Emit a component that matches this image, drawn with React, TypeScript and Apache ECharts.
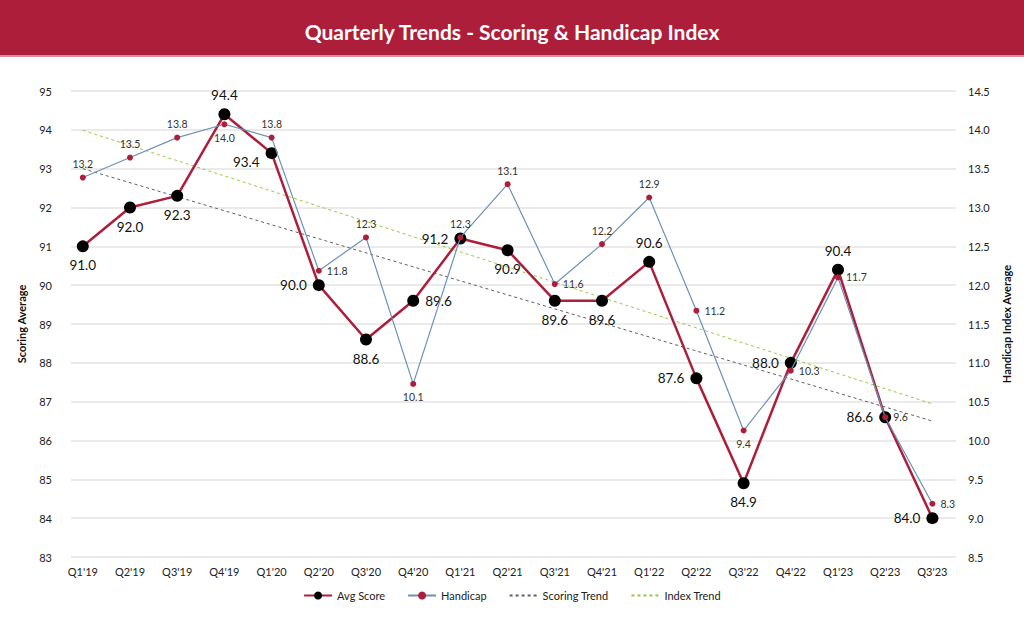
import React, { useEffect, useRef } from "react";
import * as echarts from "echarts";

const categories = [
  "Q1'19", "Q2'19", "Q3'19", "Q4'19", "Q1'20", "Q2'20", "Q3'20", "Q4'20",
  "Q1'21", "Q2'21", "Q3'21", "Q4'21", "Q1'22", "Q2'22", "Q3'22", "Q4'22",
  "Q1'23", "Q2'23", "Q3'23",
];
const avgScore = [91.0, 92.0, 92.3, 94.4, 93.4, 90.0, 88.6, 89.6, 91.2, 90.9, 89.6, 89.6, 90.6, 87.6, 84.9, 88.0, 90.4, 86.6, 84.0];
const handicap = [13.2, 13.5, 13.8, 14.0, 13.8, 11.8, 12.3, 10.1, 12.3, 13.1, 11.6, 12.2, 12.9, 11.2, 9.4, 10.3, 11.7, 9.6, 8.3];
const scoringTrend = [93.0, 86.5]; // first and last quarter
const indexTrend = [13.91, 9.8]; // first and last quarter

const scorePos = ["bottom", "bottom", "bottom", "top", "left", "left", "bottom", "right", "left", "bottom", "bottom", "bottom", "top", "left", "bottom", "left", "top", "left", "left"];
const hcpPos = ["top", "top", "top", "bottom", "top", "right", "top", "bottom", "top", "top", "right", "top", "top", "right", "bottom", "right", "right", "right", "right"];

const FONT = "Lato, 'Noto Sans', sans-serif";
const CRIMSON = "#AD1E3B";

export default function App() {
  const ref = useRef<HTMLDivElement>(null);
  useEffect(() => {
    document.body.style.margin = "0";
    const chart = echarts.init(ref.current!, null, { renderer: "svg" });
    const last = categories.length - 1;
    const option = {
      animation: false,
      backgroundColor: "#ffffff",
      textStyle: { fontFamily: FONT },
      graphic: [
        { type: "rect", left: 0, top: 0, shape: { width: 1024, height: 55 }, style: { fill: CRIMSON }, z: 0 },
        { type: "rect", left: 0, top: 55, shape: { width: 1024, height: 2 }, style: { fill: "#D98C9B" }, z: 0 },
      ],
      title: {
        text: "Quarterly Trends - Scoring & Handicap Index",
        left: "center",
        top: 16,
        textStyle: { color: "#ffffff", fontSize: 21, fontWeight: "bold", fontFamily: FONT },
      },
      legend: {
        bottom: 12,
        left: "center",
        itemWidth: 28,
        itemHeight: 10,
        itemGap: 22,
        textStyle: { fontSize: 11, color: "#222", fontFamily: FONT },
        data: [
          { name: "Avg Score" },
          { name: "Handicap" },
          { name: "Scoring Trend", itemStyle: { opacity: 0 } },
          { name: "Index Trend", itemStyle: { opacity: 0 } },
        ],
      },
      grid: { left: 71, right: 68, top: 91, bottom: 61 },
      xAxis: {
        type: "value",
        min: -0.25,
        max: last + 0.5,
        axisLine: { show: false },
        axisTick: { show: false, customValues: categories.map((_, i) => i) },
        splitLine: { show: false },
        axisLabel: {
          customValues: categories.map((_, i) => i),
          formatter: (v: number) => categories[Math.round(v)] ?? "",
          fontSize: 11,
          color: "#222",
          margin: 9,
          fontFamily: FONT,
        },
      },
      yAxis: [
        {
          type: "value",
          min: 83,
          max: 95,
          interval: 1,
          name: "Scoring Average",
          nameLocation: "middle",
          nameGap: 44,
          nameRotate: 90,
          nameTextStyle: { fontSize: 11, fontWeight: "bold", color: "#111", fontFamily: FONT },
          axisLine: { show: false },
          axisTick: { show: false },
          axisLabel: { fontSize: 11, color: "#222", margin: 19, fontFamily: FONT },
          splitLine: { lineStyle: { color: "#e3e3e3", width: 1.5 } },
        },
        {
          type: "value",
          min: 8.5,
          max: 14.5,
          interval: 0.5,
          position: "right",
          name: "Handicap Index Average",
          nameLocation: "middle",
          nameGap: 36,
          nameRotate: 90,
          nameTextStyle: { fontSize: 11, fontWeight: "bold", color: "#111", fontFamily: FONT },
          axisLine: { show: false },
          axisTick: { show: false },
          axisLabel: { fontSize: 11, color: "#222", margin: 12, formatter: (v: number) => v.toFixed(1), fontFamily: FONT },
          splitLine: { show: false },
        },
        {
          type: "value",
          min: 7.5,
          max: 14.5,
          show: false,
          splitLine: { show: false },
        },
      ],
      series: [
        {
          name: "Scoring Trend",
          type: "line",
          yAxisIndex: 0,
          data: [[0, scoringTrend[0]], [last, scoringTrend[1]]],
          symbol: "none",
          lineStyle: { color: "#5f5f5f", width: 1, type: [3, 3] },
          itemStyle: { color: "#5f5f5f" },
          z: 1,
        },
        {
          name: "Index Trend",
          type: "line",
          yAxisIndex: 2,
          data: [[0, indexTrend[0]], [last, indexTrend[1]]],
          symbol: "none",
          lineStyle: { color: "#9CC640", width: 1, type: [3, 3] },
          itemStyle: { color: "#9CC640" },
          z: 1,
        },
        {
          name: "Avg Score",
          type: "line",
          yAxisIndex: 0,
          data: avgScore.map((v, i) => ({
            value: [i, v],
            label: { position: scorePos[i], offset: i === 4 ? [0, 9] : [0, 0] },
          })),
          symbol: "circle",
          symbolSize: 12,
          lineStyle: { color: CRIMSON, width: 2.5 },
          itemStyle: { color: "#000000" },
          label: {
            show: true,
            fontSize: 13.5,
            color: "#111",
            distance: 6,
            fontFamily: FONT,
            formatter: (p: any) => p.value[1].toFixed(1),
          },
          z: 3,
        },
        {
          name: "Handicap",
          type: "line",
          yAxisIndex: 2,
          data: handicap.map((v, i) => ({
            value: [i, v],
            label: { position: hcpPos[i] },
          })),
          symbol: "circle",
          symbolSize: 6,
          lineStyle: { color: "#6B91B7", width: 1.2 },
          itemStyle: { color: CRIMSON },
          label: {
            show: true,
            fontSize: 10.5,
            color: "#333",
            distance: 5,
            fontFamily: FONT,
            formatter: (p: any) => p.value[1].toFixed(1),
          },
          z: 4,
        },
      ],
    };
    chart.setOption(option as any);
    return () => chart.dispose();
  }, []);
  return <div ref={ref} style={{ width: 1024, height: 618 }} />;
}
